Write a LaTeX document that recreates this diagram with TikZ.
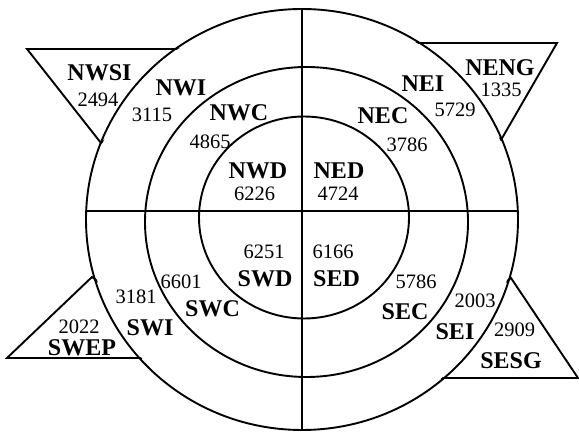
\documentclass[tikz,border=0pt]{standalone}
\usepackage{fontspec}
\setmainfont{Liberation Serif}
\begin{document}
\begin{tikzpicture}[x=1pt,y=-1pt,
  ring/.style={line width=1.9pt},
  tri/.style={line width=1.9pt,line join=miter},
  lab/.style={inner sep=0pt,font=\fontsize{24}{26}\selectfont\bfseries},
  num/.style={inner sep=0pt,font=\fontsize{20.5}{23}\selectfont}]
\useasboundingbox (0,0) rectangle (579,435);
% triangles (parts inside the outer ring are hidden)
\draw[tri] (27,49) -- (220,49) -- (101,143) -- cycle;
\draw[tri] (557,43) -- (380,43) -- (501,140) -- cycle;
\draw[tri] (7,358) -- (200,358) -- (92,277) -- cycle;
\draw[tri] (578,378) -- (380,378) -- (511,278) -- cycle;
\fill[white] (302,219.5) ellipse [x radius=214, y radius=209];
% rings
\draw[ring] (302,219.5) ellipse [x radius=216, y radius=210.5];
\draw[ring] (306.5,222) ellipse [x radius=161.5, y radius=155];
\draw[ring] (304,217.5) ellipse [x radius=105, y radius=101];
\coordinate (T) at (302,9);
\coordinate (B) at (302,430);
\coordinate (L) at (86,211);
\coordinate (R) at (518,211);
\draw[ring] (T) -- (B);
\draw[ring] (L) -- (R);
% labels
\node[lab] (nwsi) at (99.5,72.5) {NWSI};
\node[num] (nwsin) at (98,99.5) {2494};
\node[lab] (nwi) at (181,87.5) {NWI};
\node[num] (nwin) at (152,115) {3115};
\node[lab] (nwc) at (239,112.5) {NWC};
\node[num] (nwcn) at (210,141.5) {4865};
\node[lab] (nwd) at (258,170.5) {NWD};
\node[num] (nwdn) at (254.5,193.5) {6226};
\node[lab] (neng) at (500,68) {NENG};
\node[num] (nengn) at (501,90) {1335};
\node[lab] (nei) at (423,83.5) {NEI};
\node[num] (nein) at (455,110) {5729};
\node[lab] (nec) at (383,115.7) {NEC};
\node[num] (necn) at (407,145) {3786};
\node[lab] (ned) at (339,170.5) {NED};
\node[num] (nedn) at (338,193.5) {4724};
\node[num] (swdn) at (264,251.5) {6251};
\node[lab] (swd) at (265,278.5) {SWD};
\node[num] (swcn) at (181,282) {6601};
\node[lab] (swc) at (212.5,309) {SWC};
\node[num] (swin) at (136,296.5) {3181};
\node[lab] (swi) at (150,328) {SWI};
\node[num] (swepn) at (79,326.5) {2022};
\node[lab] (swep) at (82,347.5) {SWEP};
\node[num] (sedn) at (333,251.5) {6166};
\node[lab] (sed) at (336.5,278.5) {SED};
\node[num] (secn) at (416,282) {5786};
\node[lab] (sec) at (405,312) {SEC};
\node[num] (sein) at (475,301) {2003};
\node[lab] (sei) at (455,331.5) {SEI};
\node[num] (sesgn) at (514.5,330) {2909};
\node[lab] (sesg) at (511,361) {SESG};
\end{tikzpicture}
\end{document}
